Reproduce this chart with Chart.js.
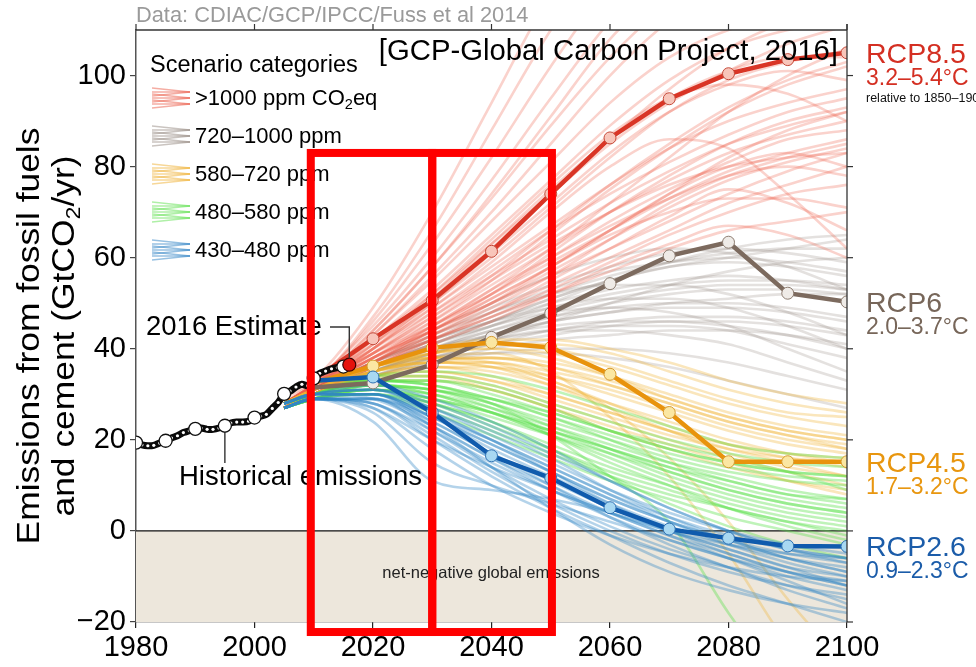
<!DOCTYPE html>
<html>
<head>
<meta charset="utf-8">
<script src="https://cdn.jsdelivr.net/npm/chart.js@4.4.1/dist/chart.umd.min.js"></script>
<style>
  html, body { margin: 0; padding: 0; background: #fff; }
  canvas { display: block; }
</style>
</head>
<body>
<canvas id="c" width="976" height="667"></canvas>
<script>
const FONT = '"Liberation Sans", Arial, Helvetica, sans-serif';

// Axis ticks
const xTicks = [1980, 2000, 2020, 2040, 2060, 2080, 2100];
const yTicks = [-20, 0, 20, 40, 60, 80, 100];

// Historical fossil fuel + cement emissions (GtCO2/yr); last year is the 2016 estimate
const histYears = [1980, 1981, 1982, 1983, 1984, 1985, 1986, 1987, 1988, 1989,
                   1990, 1991, 1992, 1993, 1994, 1995, 1996, 1997, 1998, 1999,
                   2000, 2001, 2002, 2003, 2004, 2005, 2006, 2007, 2008, 2009,
                   2010, 2011, 2012, 2013, 2014, 2015, 2016];
const histValues = [19.4, 18.9, 18.7, 18.8, 19.3, 19.8, 20.4, 20.9, 21.6, 22.0,
                    22.4, 22.6, 22.3, 22.3, 22.6, 23.1, 23.7, 23.9, 23.9, 24.1,
                    24.9, 25.2, 25.6, 26.9, 28.2, 30.1, 30.7, 31.6, 32.2, 31.9,
                    33.5, 34.6, 35.1, 35.6, 35.9, 36.1, 36.5];

// Representative Concentration Pathways
const rcpYears = [2010, 2020, 2030, 2040, 2050, 2060, 2070, 2080, 2090, 2100];
const rcp85 = [33.2, 42.2, 50.6, 61.4, 74.0, 86.3, 94.9, 100.4, 103.5, 105.0];
const rcp60 = [31.5, 32.5, 36.5, 42.5, 47.8, 54.3, 60.4, 63.4, 52.2, 50.3];
const rcp45 = [32.5, 36.2, 40.2, 41.4, 40.3, 34.4, 26.0, 15.2, 15.2, 15.2];
const rcp26 = [33.0, 33.8, 26.0, 16.5, 11.6, 5.1, 0.4, -1.6, -3.3, -3.4];
const rcpNames = ['RCP8.5', 'RCP6', 'RCP4.5', 'RCP2.6'];
const rcpWarming = ['3.2–5.4°C', '2.0–3.7°C', '1.7–3.2°C', '0.9–2.3°C'];

// Scenario database pathways, one row per scenario
const scenarioYears = [2005, 2010, 2020, 2030, 2040, 2050, 2060, 2070, 2080, 2090, 2100];
const over1000 = [
  [28, 32, 47, 66, 88, 110, 128, 140, 146, 150, 152],
  [29, 33, 45, 60, 77, 95, 112, 125, 132, 136, 138],
  [28, 32, 43, 56, 70, 85, 100, 112, 120, 124, 126],
  [27, 31, 42, 53, 65, 77, 89, 99, 106, 110, 112],
  [28, 32, 41, 50, 60, 71, 82, 92, 99, 103, 105],
  [27, 31, 40, 49, 58, 67, 76, 84, 90, 94, 97],
  [28, 32, 40, 48, 56, 64, 72, 79, 85, 89, 92],
  [27, 31, 39, 46, 54, 62, 70, 77, 83, 87, 90],
  [28, 32, 39, 45, 52, 59, 66, 73, 79, 83, 86],
  [27, 31, 38, 44, 50, 57, 64, 71, 77, 81, 84],
  [28, 31, 38, 44, 51, 58, 66, 74, 80, 83, 80],
  [27, 30, 37, 43, 49, 56, 64, 72, 78, 82, 85],
  [28, 32, 40, 49, 59, 70, 80, 86, 84, 74, 62],
  [27, 31, 38, 44, 50, 56, 62, 68, 74, 79, 83],
  [28, 31, 37, 43, 48, 54, 60, 66, 72, 76, 80],
  [27, 30, 36, 42, 47, 53, 59, 65, 70, 74, 76],
  [28, 32, 42, 52, 63, 74, 85, 94, 101, 107, 111],
  [27, 31, 38, 45, 53, 62, 72, 82, 92, 100, 106],
  [28, 31, 37, 42, 47, 52, 57, 62, 66, 68, 70],
  [27, 30, 36, 41, 46, 52, 58, 63, 67, 65, 60],
  [28, 32, 41, 51, 62, 74, 86, 97, 106, 112, 116],
  [27, 31, 39, 47, 55, 63, 70, 76, 80, 82, 83],
  [28, 31, 38, 46, 55, 65, 75, 84, 92, 98, 102],
  [27, 30, 36, 42, 48, 55, 62, 69, 75, 72, 66],
  [28, 32, 44, 58, 74, 91, 108, 120, 128, 132, 134],
  [27, 31, 40, 50, 61, 72, 83, 92, 98, 101, 99],
  [28, 31, 39, 48, 57, 66, 74, 81, 87, 92, 95],
  [27, 30, 37, 45, 53, 60, 67, 73, 78, 80, 78],
  [28, 33, 49, 70, 94, 118, 136, 148, 155, 158, 160],
  [27, 32, 46, 63, 82, 102, 120, 133, 140, 144, 146],
  [28, 32, 44, 58, 73, 89, 104, 116, 124, 128, 130],
  [27, 31, 43, 55, 68, 81, 94, 104, 110, 113, 114],
  [28, 31, 40, 51, 63, 75, 86, 95, 101, 104, 104],
  [27, 31, 41, 52, 64, 76, 87, 95, 98, 96, 90],
  [28, 32, 39, 47, 56, 66, 76, 85, 93, 99, 103],
  [27, 30, 37, 44, 52, 61, 70, 78, 85, 90, 93],
  [28, 31, 38, 45, 52, 60, 68, 75, 81, 86, 88],
  [27, 30, 36, 43, 50, 58, 66, 74, 82, 88, 92],
  [28, 31, 37, 44, 51, 58, 65, 70, 73, 73, 71]
];
const ppm720to1000 = [
  [28, 31, 37, 42, 47, 52, 56, 59, 61, 62, 62],
  [27, 30, 36, 41, 46, 51, 55, 58, 59, 58, 56],
  [28, 31, 37, 43, 49, 54, 58, 61, 62, 61, 59],
  [27, 30, 35, 39, 43, 47, 50, 52, 53, 53, 52],
  [28, 31, 36, 40, 44, 47, 49, 50, 50, 49, 47],
  [27, 30, 35, 38, 41, 43, 45, 46, 46, 45, 43],
  [28, 31, 37, 42, 46, 49, 51, 51, 49, 45, 40],
  [27, 30, 34, 37, 40, 42, 43, 44, 44, 43, 41],
  [28, 31, 36, 41, 45, 48, 49, 48, 45, 40, 35],
  [27, 30, 35, 40, 45, 50, 55, 59, 62, 64, 65],
  [28, 31, 36, 40, 43, 46, 48, 50, 51, 52, 52],
  [27, 30, 34, 37, 39, 40, 40, 39, 37, 34, 31],
  [28, 31, 37, 44, 50, 56, 60, 62, 61, 58, 53],
  [27, 30, 35, 38, 39, 39, 38, 36, 33, 30, 27],
  [28, 31, 36, 41, 46, 51, 55, 58, 60, 62, 64],
  [27, 30, 35, 39, 43, 46, 48, 49, 49, 48, 46],
  [28, 31, 37, 42, 46, 50, 53, 55, 56, 55, 53],
  [27, 30, 34, 38, 41, 44, 45, 45, 44, 41, 38],
  [28, 31, 36, 41, 45, 49, 52, 54, 55, 55, 54],
  [27, 30, 35, 39, 42, 44, 46, 47, 47, 46, 44],
  [28, 31, 36, 42, 48, 53, 57, 59, 60, 59, 57],
  [27, 30, 35, 40, 44, 48, 51, 53, 54, 54, 53],
  [28, 31, 36, 40, 43, 45, 46, 46, 45, 43, 40],
  [27, 30, 34, 38, 42, 46, 50, 54, 57, 59, 60],
  [28, 31, 37, 43, 48, 52, 54, 54, 52, 48, 43],
  [27, 30, 35, 39, 42, 44, 44, 43, 41, 37, 33]
];
const ppm580to720 = [
  [28, 31, 36, 39, 40, 39, 36, 32, 28, 25, 23],
  [27, 30, 35, 37, 37, 35, 32, 28, 24, 21, 19],
  [28, 31, 36, 38, 37, 33, 28, 23, 19, 16, 14],
  [27, 30, 34, 36, 35, 32, 28, 24, 20, 17, 15],
  [28, 31, 35, 36, 34, 30, 26, 22, 18, 15, 12],
  [27, 30, 34, 34, 32, 28, 24, 20, 16, 13, 10],
  [28, 31, 36, 39, 40, 38, 34, 29, 25, 22, 20],
  [27, 30, 35, 38, 39, 35, 25, 12, -5, -25, -40],
  [28, 31, 36, 39, 41, 40, 37, 33, 29, 26, 25],
  [27, 30, 33, 33, 31, 27, 23, 19, 15, 11, 8],
  [28, 31, 36, 40, 42, 42, 40, 37, 33, 30, 28],
  [27, 30, 34, 35, 33, 29, 25, 21, 18, 16, 15],
  [28, 31, 35, 37, 36, 33, 27, 16, 2, -15, -30],
  [27, 30, 35, 37, 38, 37, 34, 30, 26, 23, 21],
  [28, 31, 34, 34, 31, 27, 22, 18, 14, 11, 9],
  [27, 30, 35, 38, 38, 36, 32, 28, 24, 21, 18],
  [28, 31, 36, 39, 41, 41, 39, 35, 31, 28, 26],
  [27, 30, 35, 37, 37, 34, 30, 26, 22, 19, 17],
  [28, 31, 35, 37, 36, 32, 27, 22, 17, 14, 12],
  [27, 30, 34, 36, 36, 34, 31, 27, 23, 20, 18],
  [28, 31, 36, 38, 38, 36, 33, 29, 25, 22, 20],
  [27, 30, 34, 35, 33, 30, 26, 22, 19, 17, 16]
];
const ppm480to580 = [
  [28, 30, 33, 32, 29, 25, 21, 17, 14, 12, 11],
  [27, 29, 31, 29, 25, 21, 17, 13, 9, 6, 4],
  [28, 30, 34, 34, 32, 28, 24, 20, 17, 15, 14],
  [27, 29, 32, 30, 26, 21, 16, 11, 7, 4, 2],
  [28, 30, 33, 33, 31, 27, 22, 18, 15, 13, 12],
  [27, 29, 30, 27, 22, 17, 12, 8, 5, 2, 0],
  [28, 30, 32, 31, 27, 22, 17, 12, 8, 5, 3],
  [27, 29, 31, 28, 24, 18, 12, 6, 1, -3, -6],
  [28, 30, 33, 32, 28, 21, 12, 2, -18, -35, -45],
  [27, 29, 32, 31, 28, 24, 20, 16, 13, 11, 10],
  [28, 30, 34, 35, 34, 31, 27, 23, 19, 17, 16],
  [27, 29, 31, 29, 26, 22, 18, 14, 11, 8, 7],
  [28, 30, 32, 30, 26, 21, 15, 10, 5, 1, -2],
  [27, 29, 30, 26, 21, 16, 11, 7, 3, 0, -3],
  [28, 30, 31, 28, 23, 18, 13, 9, 5, 2, -1],
  [27, 29, 32, 31, 29, 26, 22, 19, 16, 13, 9],
  [28, 30, 33, 33, 30, 26, 22, 18, 15, 13, 12],
  [27, 29, 31, 29, 26, 22, 18, 14, 10, 7, 5],
  [28, 30, 32, 31, 28, 23, 18, 13, 9, 6, 4],
  [27, 29, 31, 30, 27, 23, 19, 15, 12, 9, 7],
  [28, 30, 33, 32, 29, 25, 20, 15, 11, 8, 6],
  [27, 29, 30, 28, 24, 19, 14, 10, 6, 3, 1]
];
const ppm430to480 = [
  [28, 30, 30, 25, 18, 12, 6, 1, -3, -6, -8],
  [27, 29, 29, 23, 16, 9, 3, -2, -6, -9, -11],
  [28, 30, 31, 27, 21, 15, 9, 4, 0, -3, -5],
  [27, 29, 28, 21, 13, 6, 0, -5, -9, -12, -14],
  [28, 30, 30, 24, 17, 10, 3, -3, -8, -12, -15],
  [27, 29, 27, 18, 10, 4, -1, -5, -8, -10, -11],
  [28, 30, 31, 28, 23, 17, 11, 5, 0, -4, -7],
  [27, 29, 26, 15, 10, 6, 2, -2, -6, -10, -13],
  [28, 30, 30, 23, 14, 5, -3, -9, -13, -16, -18],
  [27, 29, 29, 25, 20, 14, 8, 2, -3, -7, -10],
  [28, 30, 32, 29, 24, 18, 11, 5, 0, -4, -6],
  [27, 29, 28, 20, 12, 5, -1, -7, -12, -16, -20],
  [28, 30, 30, 26, 20, 13, 6, 0, -5, -9, -12],
  [27, 29, 27, 20, 14, 9, 4, 0, -3, -5, -6],
  [28, 30, 31, 27, 22, 16, 9, 3, -2, -6, -9],
  [27, 29, 29, 22, 14, 7, 1, -4, -8, -13, -17],
  [27, 29, 24, 11, 9, 7, 4, 0, -4, -8, -12],
  [28, 30, 30, 25, 19, 13, 7, 2, -2, -5, -7],
  [27, 29, 29, 24, 17, 11, 5, 0, -4, -8, -10],
  [28, 30, 31, 26, 20, 14, 8, 3, -1, -4, -6],
  [27, 29, 28, 22, 15, 9, 4, -1, -5, -9, -12],
  [28, 30, 29, 23, 16, 10, 4, -1, -6, -11, -16],
  [27, 29, 30, 25, 19, 13, 7, 2, -2, -6, -9]
];
const categoryLabels = ['>1000 ppm CO|2|eq', '720–1000 ppm', '580–720 ppm', '480–580 ppm', '430–480 ppm'];

// Highlighted periods (years) and their vertical reach (GtCO2/yr)
const highlightPeriods = [[2009.5, 2030], [2030, 2050.2]];
const highlightRange = [83, -22.2];

// ---- styling ----
const bundleRGB = ['236, 92, 72', '150, 138, 130', '240, 176, 48', '96, 226, 80', '48, 132, 198'];
const bundleAlpha = [0.28, 0.26, 0.32, 0.40, 0.36];
const rcpStyles = [
  { line: '#d93526', fill: '#f8c5ba', edge: '#c44a3a', text: '#d42f22' },
  { line: '#7c6a5e', fill: '#efebe7', edge: '#8c7c70', text: '#776659' },
  { line: '#e8930d', fill: '#fbe7a2', edge: '#d69b30', text: '#e8960f' },
  { line: '#105bad', fill: '#a8d8f2', edge: '#2f72b4', text: '#1b5ca9' }
];

const xy = (xs, ys) => ys.map((v, i) => ({ x: xs[i], y: v }));
const rgba = (i, a) => `rgba(${bundleRGB[i]}, ${a})`;

function bundleSets(rows, cat, order) {
  return rows.map(vals => ({
    data: xy(scenarioYears, vals),
    borderColor: rgba(cat, bundleAlpha[cat]),
    borderWidth: 2.6,
    pointRadius: 0,
    cubicInterpolationMode: 'monotone',
    fill: false,
    order
  }));
}

function rcpSet(vals, st, order) {
  return {
    data: xy(rcpYears, vals),
    borderColor: st.line,
    borderWidth: 4.5,
    pointRadius: c => (c.dataIndex === 0 ? 0 : 6),
    pointBackgroundColor: st.fill,
    pointBorderColor: st.edge,
    pointBorderWidth: 1,
    fill: false,
    order
  };
}

const histPoints = xy(histYears, histValues);
const lastHist = histPoints[histPoints.length - 1];

const datasets = [
  // 2016 estimate
  { data: [lastHist], showLine: false, pointRadius: 6.5, pointBackgroundColor: '#e5120c',
    pointBorderColor: '#3a0000', pointBorderWidth: 1.2, order: -3 },
  // five-yearly markers
  { data: histPoints.filter(p => p.x % 5 === 0), showLine: false, pointRadius: 6.5,
    pointBackgroundColor: '#fff', pointBorderColor: '#111', pointBorderWidth: 1.3, order: -2 },
  // annual historical record
  { data: histPoints, borderColor: '#0a0a0a', borderWidth: 7, pointRadius: 1.6,
    pointBackgroundColor: '#fff', pointBorderWidth: 0, tension: 0.3, fill: false, order: -1 },
  rcpSet(rcp26, rcpStyles[3], 1),
  rcpSet(rcp45, rcpStyles[2], 2),
  rcpSet(rcp60, rcpStyles[1], 3),
  rcpSet(rcp85, rcpStyles[0], 4),
  ...bundleSets(ppm430to480, 4, 10),
  ...bundleSets(ppm480to580, 3, 11),
  ...bundleSets(ppm580to720, 2, 12),
  ...bundleSets(over1000, 0, 13),
  ...bundleSets(ppm720to1000, 1, 14)
];

// ---- text helpers ----
function font(size) { return `${size}px ${FONT}`; }

// Draws text with "|...|" segments as subscripts
function richText(ctx, str, x, y, size, color, align = 'left', rot = 0, sx = 1) {
  const parts = str.split('|').map((t, i) => ({ t, sub: i % 2 === 1 }));
  ctx.save();
  ctx.translate(x, y);
  if (rot) ctx.rotate(rot);
  if (sx !== 1) ctx.scale(sx, 1);
  ctx.fillStyle = color;
  ctx.textBaseline = 'alphabetic';
  ctx.textAlign = 'left';
  const widths = parts.map(p => { ctx.font = font(p.sub ? size * 0.66 : size); return ctx.measureText(p.t).width; });
  const total = widths.reduce((a, b) => a + b, 0);
  let cx = align === 'center' ? -total / 2 : align === 'right' ? -total : 0;
  parts.forEach((p, i) => {
    ctx.font = font(p.sub ? size * 0.66 : size);
    ctx.fillText(p.t, cx, p.sub ? size * 0.2 : 0);
    cx += widths[i];
  });
  ctx.restore();
}

function line(ctx, pts, color, width) {
  ctx.save();
  ctx.strokeStyle = color; ctx.lineWidth = width;
  ctx.beginPath();
  pts.forEach((p, i) => (i ? ctx.lineTo(p[0], p[1]) : ctx.moveTo(p[0], p[1])));
  ctx.stroke();
  ctx.restore();
}

const decor = {
  id: 'decor',
  beforeDatasetsDraw(chart) {
    const { ctx, chartArea: a, scales: { y } } = chart;
    const y0 = y.getPixelForValue(0);
    ctx.save();
    ctx.fillStyle = '#ede7dc';
    ctx.fillRect(a.left, y0, a.right - a.left, a.bottom - y0);
    ctx.restore();
    line(ctx, [[a.left, y0], [a.right, y0]], '#111', 1.3);
  },
  afterDatasetsDraw(chart) {
    const { ctx, chartArea: a, scales: { x, y } } = chart;

    // frame: top edge and right edge with outward ticks
    line(ctx, [[a.left, a.top], [a.right, a.top]], '#333', 1.3);
    line(ctx, [[a.right, a.top - 6], [a.right, a.bottom]], '#333', 1.3);
    xTicks.forEach(v => { const px = x.getPixelForValue(v); line(ctx, [[px, a.top], [px, a.top - 6]], '#333', 1.2); });
    yTicks.forEach(v => { const py = y.getPixelForValue(v); line(ctx, [[a.right, py], [a.right + 6, py]], '#333', 1.2); });

    // header texts
    richText(ctx, 'Data: CDIAC/GCP/IPCC/Fuss et al 2014', a.left, 22, 21.8, '#9a9a9a');
    richText(ctx, '[GCP-Global Carbon Project, 2016]', a.right - 9, 60, 29.3, '#000', 'right');

    // y-axis title
    const cy = (a.top + a.bottom) / 2 + 10;
    richText(ctx, 'Emissions from fossil fuels', 39, cy, 30.5, '#000', 'center', -Math.PI / 2, 1.16);
    richText(ctx, 'and cement (GtCO|2|/yr)', 74, cy, 30.5, '#000', 'center', -Math.PI / 2, 1.16);

    // legend
    richText(ctx, 'Scenario categories', 150, 72, 23.5, '#000');
    categoryLabels.forEach((lab, i) => {
      const base = 105 + i * 38;
      const cyi = base - 7;
      const offs = [-8, -6, -4, -2, 0, 2, 4, 6, 8];
      offs.forEach((o, k) => {
        const tilt = ((k % 3) - 1) * 2;
        line(ctx, [[152, cyi + o + tilt], [190, cyi + o - tilt]], rgba(i, 0.5), 1.6);
      });
      richText(ctx, lab, 195, base, 22, '#000');
    });

    // RCP end labels
    [rcp85, rcp60, rcp45, rcp26].forEach((vals, i) => {
      const py = y.getPixelForValue(vals[vals.length - 1]);
      richText(ctx, rcpNames[i], a.right + 19, py + 10, 28.5, rcpStyles[i].text);
      richText(ctx, rcpWarming[i], a.right + 19, py + 32, 23, rcpStyles[i].text);
    });
    richText(ctx, 'relative to 1850–1900', a.right + 19, 102, 12.5, '#111');

    // historical annotations
    const est = { x: x.getPixelForValue(lastHist.x), y: y.getPixelForValue(lastHist.y) };
    richText(ctx, '2016 Estimate', 146, 335, 27.5, '#000');
    line(ctx, [[330, 327], [est.x, 327], [est.x, est.y - 7]], '#333', 1.4);
    const p95 = histPoints.find(p => p.x === 1995);
    const hx = x.getPixelForValue(p95.x);
    line(ctx, [[hx, y.getPixelForValue(p95.y) + 7], [hx, 463]], '#333', 1.4);
    richText(ctx, 'Historical emissions', 179, 485, 27.5, '#000');

    richText(ctx, 'net-negative global emissions', 491, 578, 16.5, '#222', 'center');
  },
  afterDraw(chart) {
    const { ctx, scales: { x, y } } = chart;
    ctx.save();
    ctx.strokeStyle = '#ff0000';
    ctx.lineWidth = 8;
    highlightPeriods.forEach(([x0, x1]) => {
      const l = x.getPixelForValue(x0), r = x.getPixelForValue(x1);
      const t = y.getPixelForValue(highlightRange[0]), b = y.getPixelForValue(highlightRange[1]);
      ctx.strokeRect(l, t, r - l, b - t);
    });
    ctx.restore();
  }
};

new Chart(document.getElementById('c'), {
  type: 'line',
  data: { datasets },
  plugins: [decor],
  options: {
    responsive: false,
    animation: false,
    devicePixelRatio: 1,
    layout: { padding: { left: 0, right: 129, top: 30, bottom: 0 } },
    plugins: { legend: { display: false }, tooltip: { enabled: false } },
    scales: {
      x: {
        type: 'linear', min: 1980, max: 2100,
        afterBuildTicks: s => { s.ticks = xTicks.map(v => ({ value: v })); },
        afterFit: s => { s.height = 45; },
        grid: { drawOnChartArea: false, drawTicks: true, tickLength: 6, color: '#222', lineWidth: 1.2 },
        border: { display: true, color: '#222', width: 1.3 },
        ticks: { autoSkip: false, maxRotation: 0, padding: 3, color: '#000',
                 font: { family: FONT, size: 29 }, callback: v => String(v) }
      },
      y: {
        type: 'linear', min: -20, max: 110,
        afterBuildTicks: s => { s.ticks = yTicks.map(v => ({ value: v })); },
        afterFit: s => { s.width = 136; },
        grid: { drawOnChartArea: false, drawTicks: true, tickLength: 6, color: '#444', lineWidth: 1.2 },
        border: { display: true, color: '#555', width: 1.5 },
        ticks: { padding: 4, color: '#000', font: { family: FONT, size: 29 },
                 callback: v => (v < 0 ? '\u2212' + Math.abs(v) : String(v)) }
      }
    }
  }
});
</script>
</body>
</html>
